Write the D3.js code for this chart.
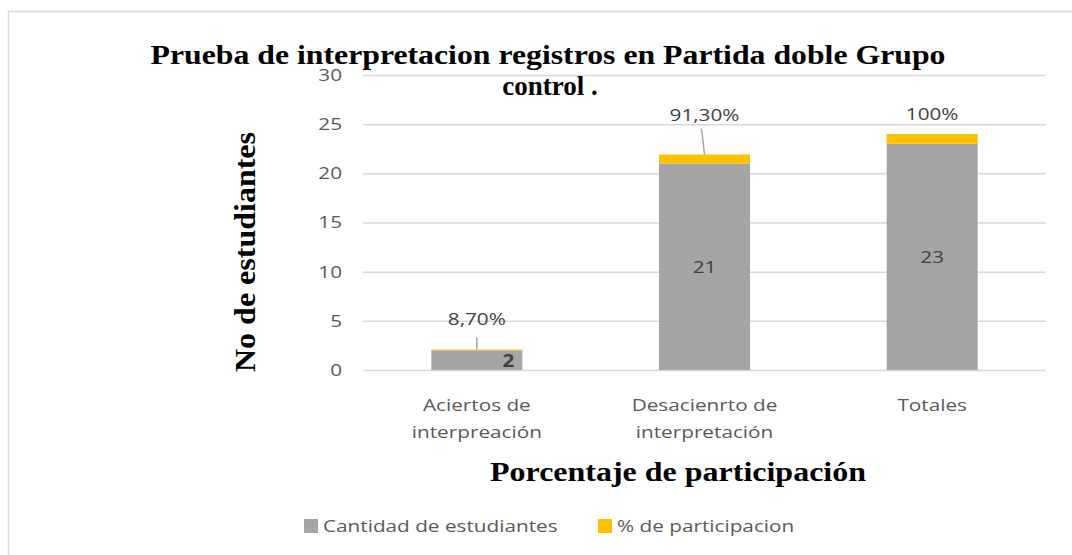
<!DOCTYPE html>
<html>
<head>
<meta charset="utf-8">
<script src="https://cdn.jsdelivr.net/npm/d3@7"></script>
<style>
  body { margin: 0; background: #fff; }
  svg { display: block; }
  .lbl { font-family: "Open Sans", sans-serif; font-size: 17px; fill: #595959; }
  .ttl { font-family: "Liberation Serif", "Times New Roman", serif; font-weight: bold; fill: #000; }
</style>
</head>
<body>
<svg id="chart" width="1072" height="555"></svg>
<script>
// data
const categories = ["Aciertos de interpreación", "Desacienrto de interpretación", "Totales"];
const categoryLines = [["Aciertos de", "interpreación"], ["Desacienrto de", "interpretación"], ["Totales"]];
const students = [2, 21, 23];
const participation = [0.087, 0.913, 1];
const participationText = ["8,70%", "91,30%", "100%"];
const yTicks = [0, 5, 10, 15, 20, 25, 30];
const seriesNames = ["Cantidad de estudiantes", "% de participacion"];

const colors = ["#a5a5a5", "#ffc000"];
const sx = 1.22; // the sans labels in the picture are drawn wide

const svg = d3.select("#chart");
const margin = {top: 75, left: 363, right: 26, bottom: 185};
const width = 1072 - margin.left - margin.right;
const height = 555 - margin.top - margin.bottom;

function place(x, y) {
  return "translate(" + x + "," + y + ") scale(" + sx + ",1)";
}

// chart frame
svg.append("rect")
  .attr("x", 8.5).attr("y", 11.5)
  .attr("width", 1100).attr("height", 600)
  .attr("fill", "#fff").attr("stroke", "#d9d9d9").attr("stroke-width", 1.5);

const g = svg.append("g").attr("transform", "translate(" + margin.left + "," + margin.top + ")");

const x = d3.scaleBand().domain(categories).range([0, width]).paddingInner(0.6).paddingOuter(0.3);
const y = d3.scaleLinear().domain([0, 30]).range([height, 0]);

// grid
g.append("g")
  .attr("class", "axis y")
  .call(d3.axisLeft(y).tickValues(yTicks).tickSize(-width).tickFormat(""))
  .call(a => a.select(".domain").remove())
  .call(a => a.selectAll(".tick line").attr("stroke", "#d9d9d9").attr("stroke-width", 1.5));

// y tick labels
g.selectAll(".ytick")
  .data(yTicks)
  .join("text")
  .attr("class", "lbl ytick")
  .attr("text-anchor", "end")
  .attr("dy", "0.35em")
  .attr("transform", d => place(-21, y(d)))
  .text(d => d);

// stacked bars
const rows = categories.map((c, i) => ({cat: c, s: students[i], p: participation[i]}));
const stack = d3.stack().keys(["s", "p"])(rows);

g.selectAll(".layer")
  .data(stack)
  .join("g")
  .attr("fill", (d, i) => colors[i])
  .selectAll("rect")
  .data(d => d)
  .join("rect")
  .attr("x", d => x(d.data.cat))
  .attr("width", x.bandwidth())
  .attr("y", d => y(d[1]))
  .attr("height", d => y(d[0]) - y(d[1]));

// value labels inside the gray bars
g.selectAll(".val")
  .data(rows)
  .join("text")
  .attr("class", "lbl val")
  .attr("dy", "0.35em")
  .attr("transform", (d, i) => i === 0
    ? place(x(d.cat) + x.bandwidth() - 8, y(0) - 9)
    : place(x(d.cat) + x.bandwidth() / 2, y(d.s / 2)))
  .attr("text-anchor", (d, i) => i === 0 ? "end" : "middle")
  .style("font-weight", (d, i) => i === 0 ? "bold" : "normal")
  .style("fill", "#404040")
  .text(d => d.s);

// percent labels, dragged above the bars
const lift = [30, 39, 20];
const pctY = (d, i) => y(d.s + d.p) - lift[i];
g.selectAll(".pct")
  .data(rows)
  .join("text")
  .attr("class", "lbl pct")
  .attr("dy", "0.35em")
  .attr("text-anchor", "middle")
  .attr("transform", (d, i) => place(x(d.cat) + x.bandwidth() / 2, pctY(d, i)))
  .style("fill", "#404040")
  .text((d, i) => participationText[i]);

// leader lines
g.append("line")
  .attr("x1", x(categories[0]) + x.bandwidth() / 2).attr("x2", x(categories[0]) + x.bandwidth() / 2)
  .attr("y1", pctY(rows[0], 0) + 18).attr("y2", y(rows[0].s + rows[0].p))
  .attr("stroke", "#a6a6a6").attr("stroke-width", 1.5);
g.append("line")
  .attr("x1", x(categories[1]) + x.bandwidth() / 2 - 3).attr("x2", x(categories[1]) + x.bandwidth() / 2)
  .attr("y1", pctY(rows[1], 1) + 13).attr("y2", y(rows[1].s + rows[1].p))
  .attr("stroke", "#a6a6a6").attr("stroke-width", 1.5);

// category labels
const cat = g.selectAll(".cat")
  .data(categories)
  .join("text")
  .attr("class", "lbl cat")
  .attr("text-anchor", "middle")
  .attr("transform", d => place(x(d) + x.bandwidth() / 2, height + 41));
cat.selectAll("tspan")
  .data((d, i) => categoryLines[i])
  .join("tspan")
  .attr("x", 0)
  .attr("dy", (d, i) => i === 0 ? 0 : 27)
  .text(d => d);

// titles
svg.append("text").attr("class", "ttl")
  .attr("x", 548).attr("y", 64)
  .attr("text-anchor", "middle")
  .style("font-size", "27px")
  .attr("textLength", 795).attr("lengthAdjust", "spacingAndGlyphs")
  .text("Prueba de interpretacion registros en Partida doble Grupo");
svg.append("text").attr("class", "ttl")
  .attr("x", 550).attr("y", 95)
  .attr("text-anchor", "middle")
  .style("font-size", "27px")
  .text("control .");

svg.append("text").attr("class", "ttl")
  .attr("x", 678).attr("y", 481)
  .attr("text-anchor", "middle")
  .style("font-size", "28px")
  .attr("textLength", 376).attr("lengthAdjust", "spacingAndGlyphs")
  .text("Porcentaje de participación");

svg.append("text").attr("class", "ttl")
  .attr("transform", "translate(255,252) rotate(-90)")
  .attr("text-anchor", "middle")
  .style("font-size", "30px")
  .attr("textLength", 240).attr("lengthAdjust", "spacingAndGlyphs")
  .text("No de estudiantes");

// legend
const legend = svg.append("g").attr("class", "legend").attr("transform", "translate(304,526)");
const item = legend.selectAll("g")
  .data(seriesNames)
  .join("g")
  .attr("transform", (d, i) => "translate(" + (i * 294) + ",0)");
item.append("rect")
  .attr("x", 0).attr("y", -7)
  .attr("width", 14).attr("height", 14)
  .attr("fill", (d, i) => colors[i]);
item.append("text")
  .attr("class", "lbl")
  .attr("dy", "0.35em")
  .attr("transform", place(19, 0))
  .text(d => d);
</script>
</body>
</html>
